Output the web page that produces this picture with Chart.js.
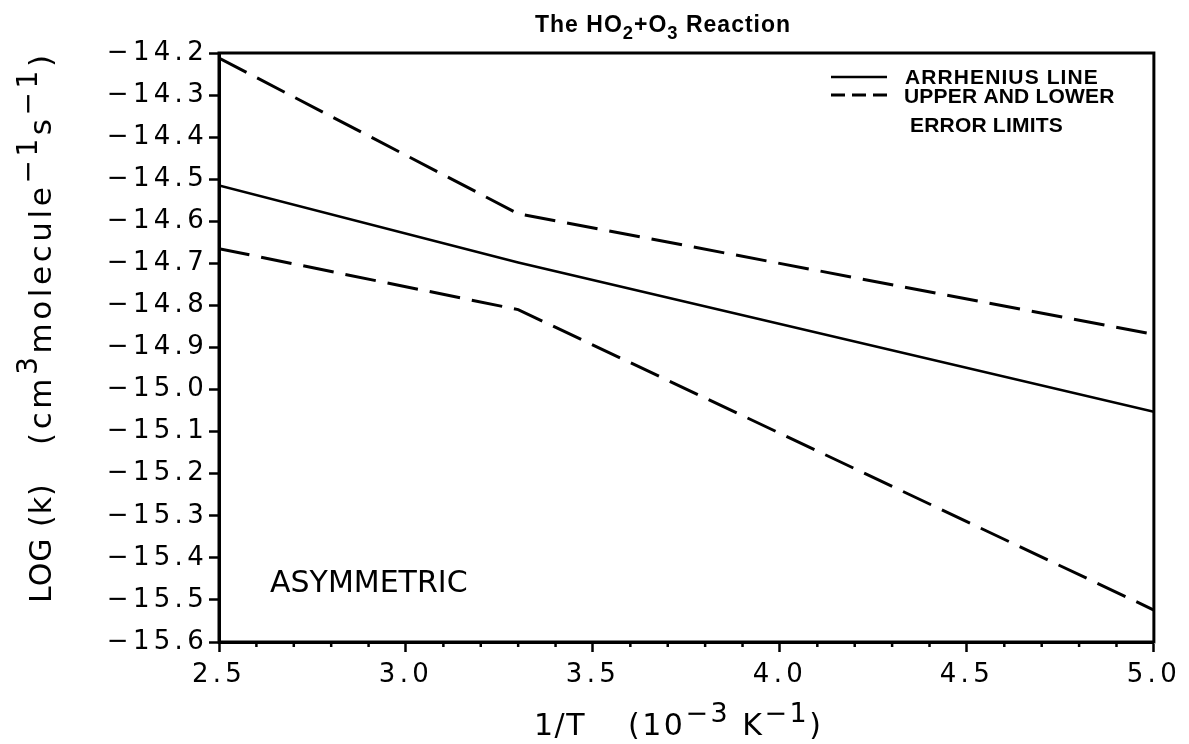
<!DOCTYPE html>
<html><head><meta charset="utf-8">
<script src="https://cdn.jsdelivr.net/npm/chart.js@4.4.0/dist/chart.umd.min.js"></script>
<style>html,body{margin:0;padding:0;background:#fff;} #wrap{width:1189px;height:744px;position:relative;}</style>
</head><body><div id="wrap"><canvas id="c" width="1189" height="744"></canvas></div>
<script>
// ---- data ----
const invT = [2.5, 3.3, 5.0];                         // 1/T (10^-3 K^-1)
const arrheniusLine = [-14.515, -14.698, -15.053];     // log k
const upperLimit = [-14.212, -14.582, -14.869];
const lowerLimit = [-14.665, -14.810, -15.524];
const xMin = 2.5, xMax = 5.0, xStep = 0.5, xMinorStep = 0.1;
const yMin = -15.6, yMax = -14.2, yStep = 0.1;
const titleParts = [{t:'The HO'},{t:'2',sub:true},{t:'+O'},{t:'3',sub:true},{t:' Reaction'}];
const xTitleA = [{t:'1/T'}];
const xTitleB = [{t:'(10'},{t:'\u22123',sup:true},{t:' K'},{t:'\u22121',sup:true},{t:')'}];
const yTitleA = [{t:'LOG (k)'}];
const yTitleB = [{t:'(cm'},{t:'3',sup:true},{t:'molecule'},{t:'\u22121',sup:true},{t:'s'},{t:'\u22121',sup:true},{t:')'}];
const legendSolid = 'ARRHENIUS LINE';
const legendDashed = ['UPPER AND LOWER', 'ERROR LIMITS'];
const noteText = 'ASYMMETRIC';

const pts = ys => invT.map((x, i) => ({x: x, y: ys[i]}));
const TICK_FONT = 'DejaVu Sans';
const TICK_LS = '4.3px';
const DASH = [31, 12];

function drawRich(ctx, parts, x, y, size, weight, family, ls, supScale) {
  let cx = x;
  const sc = supScale || 0.8;
  for (const p of parts) {
    const s = (p.sup || p.sub) ? size * sc : size;
    const dy = p.sup ? -size * 0.45 : (p.sub ? size * 0.32 : 0);
    ctx.font = `${weight} ${s}px "${family}"`;
    ctx.letterSpacing = ls + 'px';
    ctx.fillText(p.t, cx, y + dy);
    cx += ctx.measureText(p.t).width;
  }
  ctx.letterSpacing = '0px';
  return cx;
}

const spacingPlugin = {
  id: 'spacing',
  beforeLayout(chart) { chart.ctx.letterSpacing = TICK_LS; },
  beforeDraw(chart) { chart.ctx.letterSpacing = TICK_LS; }
};

const decorPlugin = {
  id: 'decor',
  afterDraw(chart) {
    const ctx = chart.ctx, a = chart.chartArea;
    const xs = chart.scales.x;
    ctx.save();
    ctx.letterSpacing = '0px';
    ctx.strokeStyle = '#000';
    ctx.fillStyle = '#000';
    // frame
    ctx.lineWidth = 3;
    ctx.strokeRect(a.left, a.top, a.right - a.left, a.bottom - a.top);
    // minor x ticks
    ctx.lineWidth = 2.5;
    for (let k = Math.round(xMin / xMinorStep); k <= Math.round(xMax / xMinorStep); k++) {
      if (k % 5 === 0) continue;
      const px = xs.getPixelForValue(k * xMinorStep);
      ctx.beginPath(); ctx.moveTo(px, a.bottom); ctx.lineTo(px, a.bottom + 5); ctx.stroke();
    }
    ctx.textBaseline = 'alphabetic';
    ctx.textAlign = 'left';
    // title
    drawRich(ctx, titleParts, 535, 32, 23, 'bold', 'Liberation Sans', 1, 0.8);
    // x title
    drawRich(ctx, xTitleA, 534, 735, 30, 'normal', 'DejaVu Sans', 1.5, 0.9);
    drawRich(ctx, xTitleB, 628, 735, 30, 'normal', 'DejaVu Sans', 2.5, 0.9);
    // y title (rotated)
    ctx.save();
    ctx.translate(51, 603);
    ctx.rotate(-Math.PI / 2);
    drawRich(ctx, yTitleA, 0, 0, 30, 'normal', 'DejaVu Sans', 1, 0.9);
    drawRich(ctx, yTitleB, 158, 0, 31, 'normal', 'DejaVu Sans', 3.6, 0.9);
    ctx.restore();
    // note
    ctx.letterSpacing = '0px';
    ctx.font = 'normal 30px "DejaVu Sans"';
    ctx.fillText(noteText, 270, 592);
    // legend
    const ds0 = chart.data.datasets[0], ds1 = chart.data.datasets[1];
    ctx.lineWidth = ds0.borderWidth;
    ctx.setLineDash([]);
    ctx.beginPath(); ctx.moveTo(831, 77); ctx.lineTo(887, 77); ctx.stroke();
    ctx.lineWidth = ds1.borderWidth;
    ctx.setLineDash([14, 7]);
    ctx.beginPath(); ctx.moveTo(831, 95); ctx.lineTo(887, 95); ctx.stroke();
    ctx.setLineDash([]);
    ctx.font = 'bold 21px "Liberation Sans"';
    ctx.letterSpacing = '1.1px';
    ctx.fillText(legendSolid, 905, 84);
    ctx.letterSpacing = '0.2px';
    ctx.fillText(legendDashed[0], 904, 103);
    ctx.fillText(legendDashed[1], 910, 132);
    ctx.restore();
  }
};

const fmtY = v => (Math.round(v * 10) / 10).toFixed(1).replace('-', '\u2212');

new Chart(document.getElementById('c'), {
  type: 'scatter',
  data: {
    datasets: [
      {label: legendSolid, data: pts(arrheniusLine), showLine: true, borderColor: '#000', borderWidth: 2.5, pointRadius: 0, tension: 0},
      {label: 'Upper error limit', data: pts(upperLimit), showLine: true, borderColor: '#000', borderWidth: 3, borderDash: DASH, pointRadius: 0, tension: 0},
      {label: 'Lower error limit', data: pts(lowerLimit), showLine: true, borderColor: '#000', borderWidth: 3, borderDash: DASH, pointRadius: 0, tension: 0}
    ]
  },
  options: {
    responsive: false,
    animation: false,
    devicePixelRatio: 1,
    layout: {padding: {top: 53, right: 31, bottom: 0, left: 0}},
    plugins: {legend: {display: false}, tooltip: {enabled: false}, title: {display: false}},
    scales: {
      x: {
        type: 'linear', min: xMin, max: xMax,
        ticks: {stepSize: xStep, callback: v => v.toFixed(1), color: '#000', font: {family: TICK_FONT, size: 26}, maxRotation: 0, autoSkip: false, padding: 8},
        grid: {drawOnChartArea: false, drawTicks: true, tickLength: 10, tickWidth: 2.5, tickColor: '#000'},
        border: {display: true, color: '#000', width: 3},
        afterFit: s => { s.height = 102; }
      },
      y: {
        type: 'linear', min: yMin, max: yMax,
        ticks: {stepSize: yStep, callback: fmtY, color: '#000', font: {family: TICK_FONT, size: 26}, autoSkip: false, padding: 1},
        grid: {drawOnChartArea: false, drawTicks: true, tickLength: 10, tickWidth: 2.5, tickColor: '#000'},
        border: {display: true, color: '#000', width: 3},
        afterFit: s => { s.width = 219; }
      }
    }
  },
  plugins: [spacingPlugin, decorPlugin]
});
</script>
</body></html>
